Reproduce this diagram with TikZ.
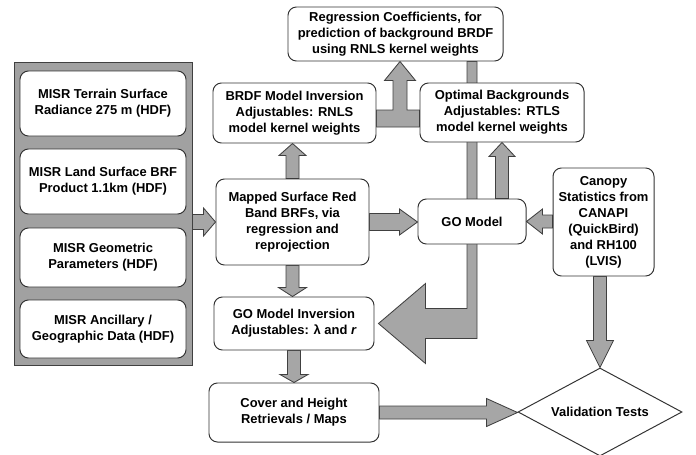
\documentclass[tikz,border=0pt]{standalone}
\usepackage{fontspec}
\setmainfont{Liberation Sans}
\usetikzlibrary{calc,shapes.geometric,backgrounds}

\newcommand{\pxu}{0.025cm}
\tikzset{
  box/.style={draw=black!80, fill=white, rounded corners=6pt, line width=0.7pt,
    align=center, inner sep=0pt, font=\bfseries\fontsize{9.2}{11.4}\selectfont},
  wh/.style 2 args={minimum width=#1*\pxu, minimum height=#2*\pxu},
  panelbox/.style={draw=black!75, fill=black!37, line width=0.7pt},
  fatline/.style={draw=black!75, fill=black!35, line width=0.6pt, line join=miter},
}
% #1 from, #2 to, #3 half shaft, #4 half head, #5 head length (px)
\newcommand{\fatarrow}[5]{%
  \draw[fatline] let \p1=(#1), \p2=(#2),
      \n1={veclen(\x2-\x1,\y2-\y1)},
      \n2={(\x2-\x1)/\n1}, \n3={(\y2-\y1)/\n1},
      \n4={#3*0.7113}, \n5={#4*0.7113}, \n6={#5*0.7113}
    in ({\x1-(\n3)*\n4},{\y1+(\n2)*\n4})
    -- ({\x2-(\n2)*\n6-(\n3)*\n4},{\y2-(\n3)*\n6+(\n2)*\n4})
    -- ({\x2-(\n2)*\n6-(\n3)*\n5},{\y2-(\n3)*\n6+(\n2)*\n5})
    -- (\x2,\y2)
    -- ({\x2-(\n2)*\n6+(\n3)*\n5},{\y2-(\n3)*\n6-(\n2)*\n5})
    -- ({\x2-(\n2)*\n6+(\n3)*\n4},{\y2-(\n3)*\n6-(\n2)*\n4})
    -- ({\x1+(\n3)*\n4},{\y1-(\n2)*\n4}) -- cycle;}

\begin{document}
\begin{tikzpicture}[x=\pxu, y=-\pxu]
            \useasboundingbox (0,0) rectangle (696,454);

            \node[panelbox, wh={178}{303}] (panel) at (103,213.5) {};
            \node[box, wh={166}{65}] (terrain) at (103,103.5) {MISR Terrain Surface\\Radiance 275 m (HDF)};
            \node[box, wh={166}{65}] (land) at (103,181.5) {MISR Land Surface BRF\\Product 1.1km (HDF)};
            \node[box, wh={166}{59}] (geom) at (103,257.5) {MISR Geometric\\Parameters (HDF)};
            \node[box, wh={166}{58}] (ancil) at (103,329) {MISR Ancillary /\\Geographic Data (HDF)};

            \node[box, wh={215}{54}] (regression) at (395.5,34) {Regression Coefficients, for\\prediction of background BRDF\\using RNLS kernel weights};
            \node[box, wh={163}{60}] (brdf) at (294.5,113) {BRDF Model Inversion\\Adjustables: RNLS\\model kernel weights};
            \node[box, wh={164}{59}] (optimal) at (502,112.5) {Optimal Backgrounds\\Adjustables: RTLS\\model kernel weights};
            \node[box, wh={153}{86}] (mapped) at (292.5,222) {Mapped Surface Red\\Band BRFs, via\\regression and\\reprojection};
            \node[box, wh={108}{45}] (go) at (472,221.5) {GO Model};
            \node[box, wh={101}{108}] (canopy) at (603.5,222) {Canopy\\Statistics from\\CANAPI\\(QuickBird)\\and RH100\\(LVIS)};
            \node[box, wh={160}{53}] (goinv) at (294,323.5) {GO Model Inversion\\Adjustables: λ and \textit{r}};
            \node[box, wh={170}{59}] (cover) at (294,412.5) {Cover and Height\\Retrievals / Maps};
            \node[box, diamond, aspect=2, rounded corners=0pt, inner sep=1pt, wh={164}{88}] (valid) at (600,412) {Validation Tests};

            \coordinate (tee) at (400,118.5);

            \begin{pgfonlayer}{background}
            \fatarrow{panel.east |- mapped.west}{mapped.west}{7.5}{14}{12}
            \fatarrow{mapped.north}{brdf.south -| mapped.north}{6.5}{13.5}{12}
            \fatarrow{mapped.south}{goinv.north -| mapped.south}{6.5}{14}{9}
            \fatarrow{goinv.south}{cover.north -| goinv.south}{6.5}{14}{8}
            \fatarrow{mapped.east}{go.west |- mapped.east}{8.5}{13}{18}
            \fatarrow{cover.east}{valid.west |- cover.east}{6.5}{14}{31}
            \fatarrow{canopy.south -| valid.north}{valid.north}{6.5}{13.5}{27}
            \fatarrow{canopy.west |- go.east}{go.east}{6.5}{12.5}{16}
            \fatarrow{go.north -| optimal.south}{optimal.south}{6.5}{13}{14}

            \draw[fatline] ($(brdf.east |- tee)+(0,8.5)$) -- ($(optimal.west |- tee)+(0,8.5)$) -- ++(0,-17)
                -- ($(tee)+(7,-8.5)$) -- ($(tee |- regression.south)+(7,19)$) -- ++(8.5,0)
                -- (tee |- regression.south) -- ++(-15.5,19) -- ++(8.5,0)
                -- ($(tee)+(-7,-8.5)$) -- ($(brdf.east |- tee)+(0,-8.5)$) -- cycle;

            \draw[fatline] ($(regression.south -| go.center)+(-5,0)$) -- ($(regression.south -| go.center)+(5,0)$)
                -- ($(goinv.east -| go.center)+(5,15)$) -- ($(goinv.east)+(51,15)$) -- ++(0,25)
                -- ($(goinv.east)+(4,0)$) -- ++(47,-40) -- ++(0,25)
                -- ($(goinv.east -| go.center)+(-5,-15)$) -- cycle;
            \end{pgfonlayer}
\end{tikzpicture}
\end{document}
